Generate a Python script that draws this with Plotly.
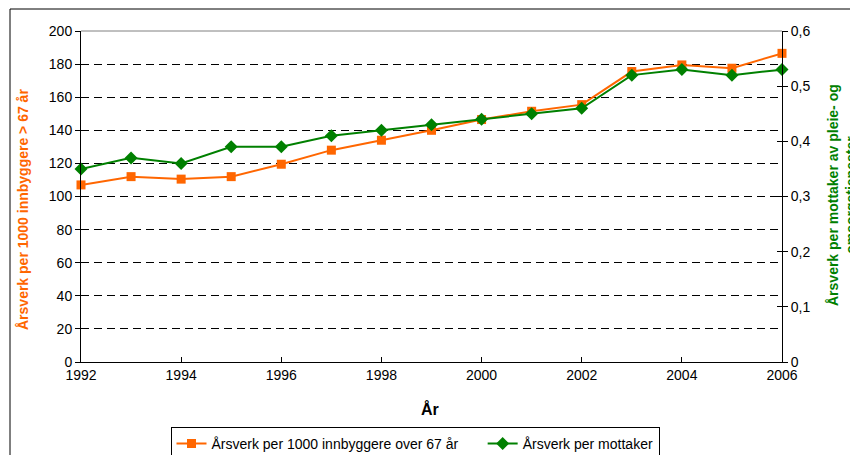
import plotly.graph_objects as go

years = list(range(1992, 2007))
aarsverk_per_1000 = [107, 112, 110.5, 112, 119.5, 128, 134, 140, 146.5, 151.5, 155.5, 175.5, 179.5, 177.5, 186.5]
aarsverk_per_mottaker = [0.35, 0.37, 0.36, 0.39, 0.39, 0.41, 0.42, 0.43, 0.44, 0.45, 0.46, 0.52, 0.53, 0.52, 0.53]

left_ticks = [0, 20, 40, 60, 80, 100, 120, 140, 160, 180, 200]
right_tickvals = [0, 0.1, 0.2, 0.3, 0.4, 0.5, 0.6]
right_ticktext = ["0", "0,1", "0,2", "0,3", "0,4", "0,5", "0,6"]
x_ticks = [1992, 1994, 1996, 1998, 2000, 2002, 2004, 2006]
series_names = ["Årsverk per 1000 innbyggere over 67 år", "Årsverk per mottaker"]

ORANGE = "#FF6600"
GREEN = "#008000"
FONT = "Liberation Sans, Arial, sans-serif"

W, H = 850, 455
L, R, T, B = 81, 68, 31, 93
pw = W - L - R
ph = H - T - B


def px_x(p):
    return (p - L) / pw


def px_y(p):
    return (H - B - p) / ph


NBSP = "\u00a0"

fig = go.Figure()
fig.add_trace(go.Scatter(
    x=years, y=aarsverk_per_1000, name=series_names[0] + NBSP * 5,
    mode="lines+markers", line=dict(color=ORANGE, width=2),
    marker=dict(symbol="square", size=9, color=ORANGE), cliponaxis=False, yaxis="y"))
fig.add_trace(go.Scatter(
    x=years, y=aarsverk_per_mottaker, name=series_names[1],
    mode="lines+markers", line=dict(color=GREEN, width=2),
    marker=dict(symbol="diamond", size=10, color=GREEN), cliponaxis=False, yaxis="y2"))
fig.add_trace(go.Scatter(x=[None], y=[None], yaxis="y3", showlegend=False, hoverinfo="skip"))

fig.update_layout(
    width=W, height=H,
    margin=dict(l=L, r=R, t=T, b=B, autoexpand=False),
    paper_bgcolor="white", plot_bgcolor="white",
    font=dict(family=FONT, size=14, color="black"),
    showlegend=True,
    legend=dict(orientation="h", xref="container", yref="container", x=415 / W, xanchor="center",
                y=1 - 444 / H, yanchor="middle", bordercolor="black", borderwidth=1,
                font=dict(size=14, color="black"), itemwidth=30, tracegroupgap=0),
    xaxis=dict(range=[1992, 2006], tickvals=x_ticks, ticks="inside", ticklen=5, tickcolor="black",
               showline=True, linecolor="black", linewidth=1, showgrid=False, zeroline=False,
               automargin=False, tickfont=dict(size=14)),
    yaxis=dict(range=[0, 200], tickvals=left_ticks, ticks="outside", ticklen=5, tickcolor="black",
               showline=True, linecolor="black", linewidth=1, showgrid=True, gridcolor="black",
               gridwidth=1, griddash="8px,5px", zeroline=False, automargin=False, tickfont=dict(size=14)),
    yaxis2=dict(range=[0, 0.6], tickvals=right_tickvals, ticktext=right_ticktext, overlaying="y",
                side="right", ticks="outside", ticklen=5, tickcolor="black", showline=True,
                linecolor="black", linewidth=1, showgrid=False, zeroline=False, automargin=False,
                tickfont=dict(size=14)),
    yaxis3=dict(range=[0, 0.6], tickvals=right_tickvals, overlaying="y", side="right", ticks="inside",
                ticklen=5, tickcolor="black", showticklabels=False, showline=False, showgrid=False,
                zeroline=False, automargin=False),
    shapes=[
        dict(type="line", xref="paper", yref="paper", x0=0, x1=1, y0=1, y1=1,
             line=dict(color="#808080", width=1), layer="above"),
        dict(type="rect", xref="paper", yref="paper", x0=px_x(10), x1=px_x(870), y0=px_y(9), y1=px_y(470),
             line=dict(color="black", width=1), layer="below"),
    ],
    annotations=[
        dict(text="<b>Årsverk per 1000 innbyggere > 67 år</b>", textangle=-90, xref="paper", yref="paper",
             x=px_x(23), y=px_y(210), xanchor="center", yanchor="middle", showarrow=False,
             font=dict(size=14, color=ORANGE)),
        dict(text="<b>Årsverk per mottaker av pleie- og<br>omsorgstjenester</b>", textangle=-90,
             xref="paper", yref="paper", x=px_x(842), y=px_y(195), xanchor="center", yanchor="middle",
             showarrow=False, font=dict(size=14, color=GREEN)),
        dict(text="<b>År</b>", xref="paper", yref="paper", x=px_x(430), y=px_y(409), xanchor="center",
             yanchor="middle", showarrow=False, font=dict(size=16, color="black")),
    ],
)

fig.write_html("out.html", config={"displayModeBar": False},
               post_script="document.body.style.margin='0';document.body.style.overflow='hidden';")
